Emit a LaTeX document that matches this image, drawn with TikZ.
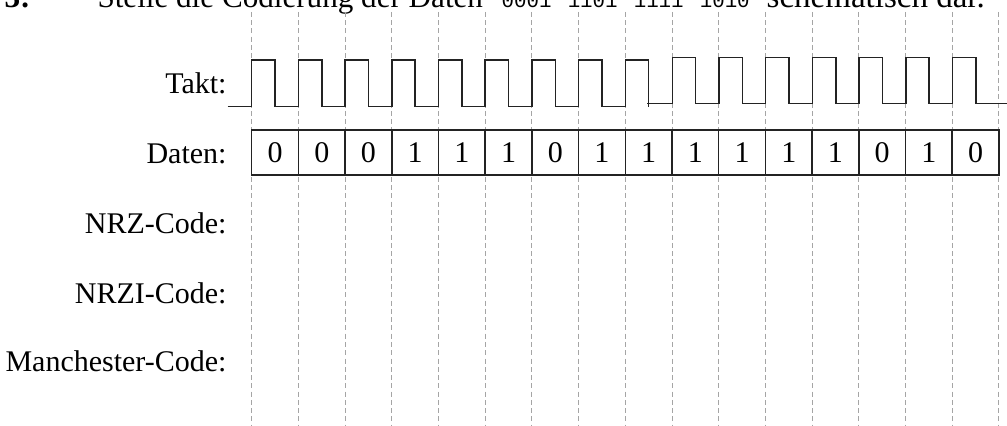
\documentclass[tikz,border=0pt]{standalone}
\usepackage{fontspec}
\setmainfont{Liberation Serif}
\setmonofont{Liberation Mono}
\usetikzlibrary{positioning}
\definecolor{gridgray}{RGB}{165,165,165}
\definecolor{signalblack}{RGB}{35,35,35}
\tikzset{
  rowlabel/.style={anchor=base east,inner sep=0pt,font=\fontsize{12}{14}\selectfont},
  bitcell/.style={draw=signalblack,line width=0.6pt,anchor=south west,inner sep=0pt,
                  outer sep=0pt,minimum width=18.68pt,minimum height=18pt,
                  font=\fontsize{12}{14}\selectfont},
  clockline/.style={signalblack,line width=0.6pt},
  gridline/.style={gridgray,line width=0.4pt,dash pattern=on 2pt off 1.3pt}
}

\begin{document}
\begin{tikzpicture}[x=0.4pt,y=0.4pt]
  \useasboundingbox (0,0) rectangle (1007,426);
  % header line of the page, cut at the top
  \node[anchor=base east,inner sep=0pt,font=\fontsize{12.45}{15}\selectfont\bfseries]
    (aufgabe) at (31,418.5) {Aufgabe 3:};
  \node[anchor=base west,inner sep=0pt,font=\fontsize{12.45}{15}\selectfont]
    (aufgabetext) at (97,418.5)
    {Stelle die Codierung der Daten\hskip 7.5pt{\fontsize{8.3}{10}\selectfont\ttfamily 0001\hskip 6.5pt 1101\hskip 6.5pt 1111\hskip 6.5pt 1010}\hskip 6.8pt{\fontsize{13.2}{15}\selectfont schematisch dar.}};

  % time grid
  \foreach \i in {0,...,16}
    \draw[gridline] (251.7+46.7*\i,414) -- (251.7+46.7*\i,0);

  % row labels
  \node[rowlabel] (takt) at (227,332.7) {Takt:};
  \node[rowlabel] (daten) at (227,262) {Daten:};
  \node[rowlabel] (nrz) at (227,192.7) {NRZ-Code:};
  \node[rowlabel] (nrzi) at (227,122.7) {NRZI-Code:};
  \node[rowlabel] (manchester) at (227,54.3) {Manchester-Code:};

  % clock
  \draw[clockline] (227.7,319.3) -- (251.7,319.3)
    foreach \i in {0,...,7} { -- ++(0,46.7) -- ++(23.35,0) -- ++(0,-46.7) -- ++(23.35,0) }
    -- ++(0,46.7) -- ++(23.35,0) -- ++(0,-46.7);
  \draw[clockline] (647,322.3) -- (672.3,322.3)
    foreach \i in {0,...,5} { -- ++(0,46.4) -- ++(23.35,0) -- ++(0,-46.4) -- ++(23.35,0) }
    -- ++(0,46.4) -- ++(23.35,0) -- ++(0,-46.4) -- (1007,322.3);

  % data bits
  \foreach \b [count=\i from 0] in {0,0,0,1,1,1,0,1,1,1,1,1,1,0,1,0}
    \node[bitcell] (bit-\i) at (251.7+46.7*\i,251) {\b};
\end{tikzpicture}
\end{document}
